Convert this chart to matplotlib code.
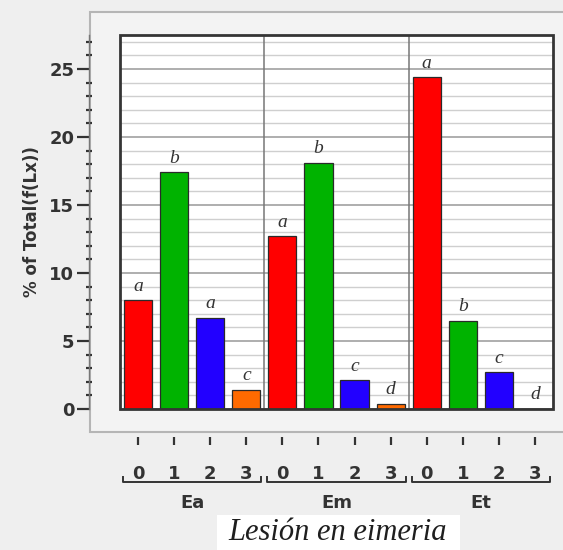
import matplotlib
matplotlib.use("Agg")
import matplotlib.pyplot as plt
from matplotlib.patches import Rectangle
from matplotlib.lines import Line2D
from matplotlib.ticker import MultipleLocator

# Data
groups = ["Ea", "Em", "Et"]
levels = ["0", "1", "2", "3"]
values_ea = [8.0, 17.4, 6.7, 1.4]
values_em = [12.7, 18.1, 2.1, 0.4]
values_et = [24.4, 6.5, 2.7, 0.0]
letters_ea = ["a", "b", "a", "c"]
letters_em = ["a", "b", "c", "d"]
letters_et = ["a", "b", "c", "d"]
level_colors = ["#ff0000", "#00b300", "#2200ff", "#ff6a00"]

plt.rcParams["font.family"] = ["DejaVu Sans"]

W, H = 563, 550
fig = plt.figure(figsize=(W / 100, H / 100), dpi=100)
fig.patch.set_facecolor("#efefef")


def fx(px):
    return px / W


def fy(py):
    return 1 - py / H


# outer report panel
panel = Rectangle((fx(90), fy(432)), fx(W + 5) - fx(90), fy(12) - fy(432),
                  transform=fig.transFigure, facecolor="#f3f3f3",
                  edgecolor="#b5b5b5", linewidth=1.5, zorder=-5)
fig.patches.append(panel)

ax = fig.add_axes([fx(120), fy(409), fx(553) - fx(120), fy(35) - fy(409)])
ax.set_facecolor("white")

all_values = values_ea + values_em + values_et
all_letters = letters_ea + letters_em + letters_et
xs = list(range(len(all_values)))
colors = level_colors * len(groups)

ax.set_xlim(-0.5, len(xs) - 0.5)
ax.set_ylim(0, 27.5)

# grid
ax.yaxis.set_major_locator(MultipleLocator(5))
ax.yaxis.set_minor_locator(MultipleLocator(1))
ax.grid(axis="y", which="minor", color="#cfcfcf", linewidth=1.0, zorder=0)
ax.grid(axis="y", which="major", color="#999999", linewidth=1.1, zorder=0)
ax.set_axisbelow(True)

# group dividers
for g in range(1, len(groups)):
    ax.axvline(g * len(levels) - 0.5, color="#777777", linewidth=1.1, zorder=1)

bars = ax.bar(xs, all_values, width=0.78, color=colors,
              edgecolor="#2a2a2a", linewidth=0.9, zorder=2)

for x, v, lab in zip(xs, all_values, all_letters):
    ax.annotate(lab, (x, v), xytext=(0, 4), textcoords="offset points",
                ha="center", va="bottom", fontsize=14, style="italic",
                family=["Liberation Serif", "DejaVu Serif"], color="#333333")

# frame around the plot area
for s in ["top", "right", "bottom", "left"]:
    ax.spines[s].set_visible(False)
ax.add_patch(Rectangle((0, 0), 1, 1, transform=ax.transAxes, fill=False,
                       edgecolor="#353535", linewidth=2.0, zorder=5,
                       clip_on=False))

# y axis detached to the left
ax.spines["left"].set_visible(True)
ax.spines["left"].set_position(("outward", 22))
ax.spines["left"].set_color("#777777")
ax.spines["left"].set_linewidth(1.0)
ax.tick_params(axis="y", which="major", direction="out", length=9, width=1.6,
               color="#333333", labelsize=13, labelcolor="#333333", pad=2)
ax.tick_params(axis="y", which="minor", direction="inout", length=5, width=1.6,
               color="#333333")
for t in ax.get_yticklabels():
    t.set_fontweight("bold")
ax.set_ylabel("% of Total(f(Lx))", fontsize=12, fontweight="bold",
              color="#333333", labelpad=6)

# x axis detached below the panel edge
ax.spines["bottom"].set_visible(True)
ax.spines["bottom"].set_position(("outward", 20))
ax.spines["bottom"].set_color("none")
ax.set_xticks(xs)
ax.set_xticklabels(levels * len(groups), fontweight="bold")
ax.tick_params(axis="x", which="both", direction="out", length=6, width=1.6,
               color="#333333", labelsize=13, labelcolor="#333333", pad=14)
ax.tick_params(axis="x", which="minor", length=0)

# group brackets and labels
tr = ax.get_xaxis_transform()
y_br = -(482 - 409) / 374
y_up = -(477 - 409) / 374
y_grp = -(503 - 409) / 374
for g, name in enumerate(groups):
    x0 = g * len(levels) - 0.5 + 0.08
    x1 = (g + 1) * len(levels) - 0.5 - 0.08
    ax.add_line(Line2D([x0, x0, x1, x1], [y_up, y_br, y_br, y_up],
                       transform=tr, color="#333333", linewidth=1.4,
                       clip_on=False))
    ax.text((x0 + x1) / 2, y_grp, name, transform=tr, ha="center",
            va="center", fontsize=13, fontweight="bold", color="#333333")

# axis title box
fig.patches.append(Rectangle((fx(217), fy(552)), fx(460) - fx(217),
                             fy(515) - fy(552), transform=fig.transFigure,
                             facecolor="white", edgecolor="none", zorder=1))
fig.text(fx(338), fy(532), "Lesión en eimeria", ha="center", va="center",
         fontsize=22, style="italic", color="#1e1e1e",
         family=["Liberation Serif", "DejaVu Serif"])

fig.savefig("out.png", dpi=100, facecolor=fig.get_facecolor())
